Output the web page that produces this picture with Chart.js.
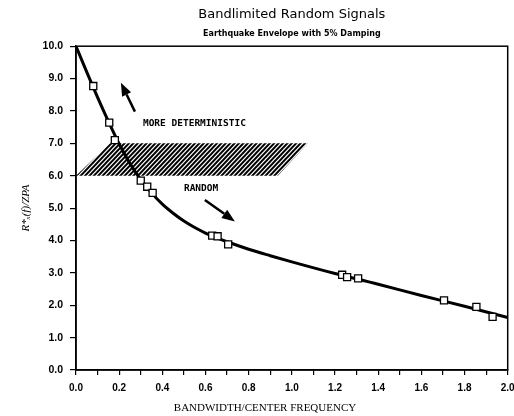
<!DOCTYPE html>
<html>
<head>
<meta charset="utf-8">
<script src="https://cdn.jsdelivr.net/npm/chart.js@4"></script>
<style>
    html, body { margin: 0; padding: 0; background: #fff; }
    #wrap { width: 514px; height: 416px; }
</style>
</head>
<body>
<div id="wrap"><canvas id="envelope-chart"></canvas></div>
<script>
// fitted envelope curve
var fitX = [0.0, 0.05, 0.1, 0.15, 0.2, 0.25, 0.3, 0.35, 0.4, 0.45, 0.5, 0.55, 0.6, 0.65, 0.7, 0.8, 0.9, 1.0, 1.2, 1.4, 1.6, 1.8, 2.0];
var fitY = [10.0, 9.2, 8.42, 7.68, 6.98, 6.38, 5.88, 5.47, 5.12, 4.84, 4.6, 4.4, 4.23, 4.09, 3.96, 3.73, 3.53, 3.34, 2.98, 2.65, 2.3, 1.97, 1.62];

// simulated cases
var caseX = [0.08, 0.154, 0.18, 0.30, 0.33, 0.355, 0.631, 0.656, 0.705, 1.233, 1.256, 1.307, 1.705, 1.855, 1.93];
var caseY = [8.77, 7.64, 7.10, 5.85, 5.66, 5.47, 4.15, 4.13, 3.88, 2.94, 2.87, 2.83, 2.15, 1.95, 1.64];

// transition zone between the two regimes
var bandX = [0.0, 0.157, 1.074, 0.935];
var bandY = [6.0, 7.0, 7.0, 6.0];

// arrows: [tailX, tailY, tipX, tipY]
var arrowUp = [0.273, 7.98, 0.208, 8.87];
var arrowDown = [0.597, 5.25, 0.736, 4.59];

var yTicks = [0, 1, 2, 3, 4, 5, 6, 7, 8, 9, 10];

var fitPoints = fitX.map(function (x, i) { return { x: x, y: fitY[i] }; });
var casePoints = caseX.map(function (x, i) { return { x: x, y: caseY[i] }; });

function drawArrow(ctx, xs, ys, a) {
    var x0 = xs.getPixelForValue(a[0]), y0 = ys.getPixelForValue(a[1]);
    var x1 = xs.getPixelForValue(a[2]), y1 = ys.getPixelForValue(a[3]);
    var ang = Math.atan2(y1 - y0, x1 - x0);
    var hl = 13, hw = 5;
    var bx = x1 - hl * Math.cos(ang), by = y1 - hl * Math.sin(ang);
    ctx.save();
    ctx.strokeStyle = '#000';
    ctx.fillStyle = '#000';
    ctx.lineWidth = 2.5;
    ctx.beginPath();
    ctx.moveTo(x0, y0);
    ctx.lineTo(bx, by);
    ctx.stroke();
    ctx.beginPath();
    ctx.moveTo(x1, y1);
    ctx.lineTo(bx + hw * Math.sin(ang), by - hw * Math.cos(ang));
    ctx.lineTo(bx - hw * Math.sin(ang), by + hw * Math.cos(ang));
    ctx.closePath();
    ctx.fill();
    ctx.restore();
}

var decor = {
    id: 'decor',
    beforeDatasetsDraw: function (chart) {
        var ctx = chart.ctx, xs = chart.scales.x, ys = chart.scales.y;
        // hatched band
        ctx.save();
        ctx.beginPath();
        bandX.forEach(function (bx, i) {
            var px = xs.getPixelForValue(bx), py = ys.getPixelForValue(bandY[i]);
            if (i === 0) ctx.moveTo(px, py); else ctx.lineTo(px, py);
        });
        ctx.closePath();
        ctx.clip();
        var top = ys.getPixelForValue(7.0), bot = ys.getPixelForValue(6.0);
        var h = bot - top;
        ctx.strokeStyle = '#000';
        ctx.lineWidth = 2;
        for (var sx = xs.left - h; sx < xs.right; sx += 4.4) {
            ctx.beginPath();
            ctx.moveTo(sx, bot + 2);
            ctx.lineTo(sx + h + 2, top - 2);
            ctx.stroke();
        }
        ctx.restore();
    },
    afterDraw: function (chart) {
        var ctx = chart.ctx, a = chart.chartArea, xs = chart.scales.x, ys = chart.scales.y;
        ctx.save();
        ctx.strokeStyle = '#000';
        ctx.lineWidth = 1.5;
        ctx.strokeRect(a.left, a.top, a.right - a.left, a.bottom - a.top);

        ctx.fillStyle = '#000';
        ctx.font = 'bold 9.5px "DejaVu Sans Mono"';
        ctx.textBaseline = 'middle';
        ctx.textAlign = 'left';
        ctx.fillText('MORE DETERMINISTIC', xs.getPixelForValue(0.31), ys.getPixelForValue(7.6));
        ctx.fillText('RANDOM', xs.getPixelForValue(0.50), ys.getPixelForValue(5.6));

        ctx.font = '11px "Liberation Serif"';
        ctx.textAlign = 'center';
        ctx.fillText('BANDWIDTH/CENTER FREQUENCY', 265, 408);
        ctx.restore();

        drawArrow(ctx, xs, ys, arrowUp);
        drawArrow(ctx, xs, ys, arrowDown);
    }
};

new Chart(document.getElementById('envelope-chart'), {
    type: 'line',
    data: {
        datasets: [
            {
                type: 'scatter',
                data: casePoints,
                pointStyle: 'rect',
                pointRadius: 5,
                pointBorderWidth: 1.3,
                pointBorderColor: '#000',
                pointBackgroundColor: '#fff',
                showLine: false
            },
            {
                data: fitPoints,
                borderColor: '#000',
                borderWidth: 3,
                pointRadius: 0,
                cubicInterpolationMode: 'monotone',
                fill: false
            }
        ]
    },
    options: {
        responsive: true,
        maintainAspectRatio: false,
        animation: false,
        layout: { padding: { left: 0, right: 6, top: 0, bottom: 0 } },
        plugins: {
            legend: { display: false },
            tooltip: { enabled: false },
            title: {
                display: true,
                fullSize: false,
                text: 'Bandlimited Random Signals',
                color: '#000',
                font: { family: '"DejaVu Sans"', size: 13, weight: 'normal' },
                padding: { top: 7, bottom: 4 }
            },
            subtitle: {
                display: true,
                fullSize: false,
                text: 'Earthquake Envelope with 5% Damping',
                color: '#000',
                font: { family: '"DejaVu Sans"', size: 8, weight: 'bold' },
                padding: { top: 3, bottom: 7 }
            }
        },
        scales: {
            x: {
                type: 'linear',
                min: 0,
                max: 2,
                afterFit: function (s) { s.height = 46; s.paddingRight = 0; },
                grid: { drawOnChartArea: false, tickLength: 5, color: '#000', lineWidth: 1.2 },
                border: { color: '#000', width: 1.5 },
                ticks: {
                    stepSize: 0.1,
                    autoSkip: false,
                    maxRotation: 0,
                    padding: 7,
                    color: '#000',
                    font: { family: '"Liberation Sans"', size: 10, weight: 'bold' },
                    callback: function (v) {
                        return Math.round(v * 10) % 2 === 0 ? v.toFixed(1) : '';
                    }
                }
            },
            y: {
                type: 'linear',
                min: 0,
                max: 10,
                afterFit: function (s) { s.width = 76; },
                afterBuildTicks: function (s) {
                    s.ticks = yTicks.map(function (v) { return { value: v }; });
                },
                grid: { drawOnChartArea: false, tickLength: 6, color: '#000', lineWidth: 1.2 },
                border: { color: '#000', width: 1.5 },
                ticks: {
                    padding: 7,
                    color: '#000',
                    font: { family: '"Liberation Sans"', size: 10.5, weight: 'bold' },
                    callback: function (v) { return v.toFixed(1); }
                },
                title: {
                    display: true,
                    text: 'R*ₓ(f)/ZPA',
                    color: '#000',
                    font: { family: '"Liberation Serif"', size: 11, style: 'italic' },
                    padding: { top: 20, bottom: 0 }
                }
            }
        }
    },
    plugins: [decor]
});
</script>
</body>
</html>
